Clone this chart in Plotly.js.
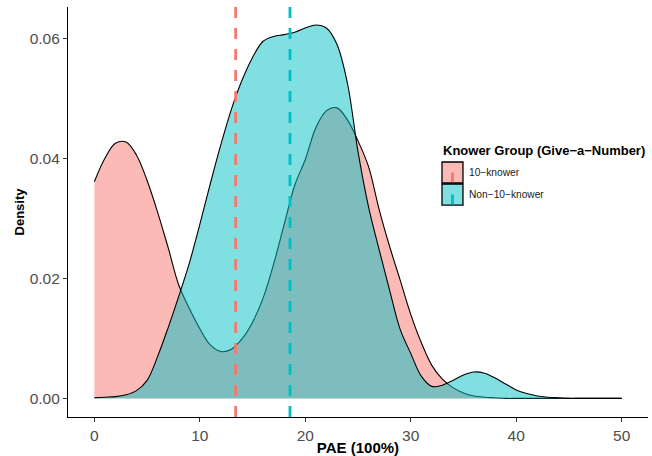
<!DOCTYPE html>
<html>
<head>
<meta charset="utf-8">
<script src="https://cdn.plot.ly/plotly-3.0.1.min.js"></script>
<style>
  html, body { margin: 0; padding: 0; background: #ffffff; }
  #chart { width: 652px; height: 456px; }
</style>
</head>
<body>
<div id="chart"></div>
<script>
// ---- Data ----
const groupNames = ["10\u2212knower", "Non\u221210\u2212knower"];
const groupFill = ["rgba(248,118,109,0.5)", "rgba(0,191,196,0.5)"];
const groupLine = ["#F8766D", "#00BFC4"];

const paeGrid = [0,1,2,3,4,5,6,7,8,9,10,11,12,13,14,15,16,17,18,19,20,21,22,23,24,25,
                 26,27,28,29,30,31,32,33,34,35,36,37,38,39,40,41,42,43,44,45,46,47,48,49,50];

const density10 = [0.0361,0.0400,0.0425,0.0427,0.0405,0.0363,0.0310,0.0251,0.0189,0.0150,
                   0.0116,0.0089,0.0078,0.0082,0.0099,0.0127,0.0167,0.0224,0.0290,0.0355,
                   0.0398,0.0451,0.0479,0.0484,0.0464,0.0429,0.0386,0.0315,0.0253,0.0197,
                   0.0140,0.0093,0.0055,0.0032,0.0018,0.0009,0.0004,0.0002,0.0001,0,
                   0,0,0,0,0,0,0,0,0,0,0];

const densityNon10 = [0.0001,0.0002,0.0003,0.0006,0.0013,0.0030,0.0070,0.0118,0.0170,0.0225,
                      0.0290,0.0358,0.0423,0.0482,0.0530,0.0568,0.0595,0.0603,0.0606,0.0610,
                      0.0617,0.0622,0.0617,0.0590,0.0525,0.0411,0.0319,0.0248,0.0180,0.0115,
                      0.0075,0.0037,0.0020,0.0022,0.0030,0.0039,0.0044,0.0042,0.0034,0.0024,
                      0.0014,0.0008,0.0004,0.0002,0.0001,0,0,0,0,0,0];

const groupMeans = [13.4, 18.55];

const xTickVals = [0, 10, 20, 30, 40, 50];
const yTickVals = [0, 0.02, 0.04, 0.06];
const yTickText = ["0.00", "0.02", "0.04", "0.06"];

// ---- Traces ----
const densities = [density10, densityNon10];
const traces = densities.map((d, i) => ({
  type: "scatter",
  mode: "lines",
  x: paeGrid,
  y: d,
  name: groupNames[i],
  fill: "tozeroy",
  fillcolor: groupFill[i],
  line: { color: "#000000", width: 1.1, shape: "spline", smoothing: 1 },
  hoverinfo: "skip",
  showlegend: false
}));

// ---- Shapes: mean lines + hand-drawn legend keys ----
const shapes = [];
groupMeans.forEach((m, i) => {
  shapes.push({
    type: "line", xref: "x", yref: "paper",
    x0: m, x1: m, y0: 0, y1: 1,
    line: { color: groupLine[i], width: 2.8, dash: "11px,10px" },
    layer: "above"
  });
});

const legendX0 = 0.6448, legendX1 = 0.681;
const keyTops = [0.622, 0.5683];
const keyH = 0.0513;
groupNames.forEach((g, i) => {
  const y1 = keyTops[i], y0 = keyTops[i] - keyH;
  shapes.push({
    type: "rect", xref: "paper", yref: "paper",
    x0: legendX0, x1: legendX1, y0: y0, y1: y1,
    fillcolor: groupFill[i], line: { color: "#000000", width: 1.3 }, layer: "above"
  });
  const xc = (legendX0 + legendX1) / 2;
  shapes.push({
    type: "line", xref: "paper", yref: "paper",
    x0: xc, x1: xc, y0: y0 + 0.002, y1: (y0 + y1) / 2,
    line: { color: groupLine[i], width: 2.8 }, layer: "above"
  });
});

const annotations = [
  {
    xref: "paper", yref: "paper", x: 0.6425, y: 0.651,
    xanchor: "left", yanchor: "middle", showarrow: false,
    text: "<b>Knower Group (Give\u2212a\u2212Number)</b>",
    font: { family: "Liberation Sans, Arial, sans-serif", size: 13, color: "#000000" }
  }
];
groupNames.forEach((g, i) => {
  annotations.push({
    xref: "paper", yref: "paper", x: 0.6875, y: keyTops[i] - keyH / 2,
    xanchor: "left", yanchor: "middle", showarrow: false,
    text: g,
    font: { family: "Liberation Sans, Arial, sans-serif", size: 10.2, color: "#1a1a1a" }
  });
});

const layout = {
  width: 652, height: 456,
  margin: { l: 68, r: 4, t: 7, b: 39, pad: 0 },
  paper_bgcolor: "#ffffff",
  plot_bgcolor: "#ffffff",
  showlegend: false,
  font: { family: "Liberation Sans, Arial, sans-serif" },
  xaxis: {
    range: [-2.5, 52.5],
    tickvals: xTickVals,
    showgrid: false, zeroline: false,
    showline: true, linecolor: "#000000", linewidth: 1.1,
    ticks: "outside", ticklen: 4, tickwidth: 1.1, tickcolor: "#333333",
    tickfont: { size: 15.5, color: "#4D4D4D" },
    title: { text: "<b>PAE (100%)</b>", font: { size: 15, color: "#000000" }, standoff: 4 }
  },
  yaxis: {
    range: [-0.0031, 0.0652],
    tickvals: yTickVals, ticktext: yTickText,
    showgrid: false, zeroline: false,
    showline: true, linecolor: "#000000", linewidth: 1.1,
    ticks: "outside", ticklen: 4, tickwidth: 1.1, tickcolor: "#333333",
    tickfont: { size: 15.5, color: "#4D4D4D" },
    title: { text: "<b>Density</b>", font: { size: 13, color: "#000000" }, standoff: 2 }
  },
  shapes: shapes,
  annotations: annotations
};

Plotly.newPlot("chart", traces, layout, { displayModeBar: false, staticPlot: true });
</script>
</body>
</html>
